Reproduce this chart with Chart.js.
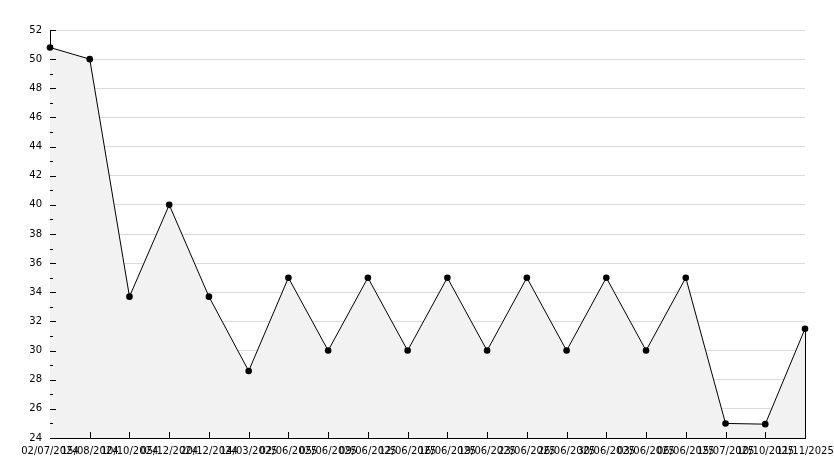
<!DOCTYPE html>
<html>
<head>
<meta charset="utf-8">
<script src="https://cdn.jsdelivr.net/npm/chart.js@4"></script>
<style>
	html, body { margin: 0; padding: 0; background: #fff; }
	#wrap { width: 834px; height: 468px; }
</style>
</head>
<body>
<div id="wrap"><canvas id="lineChart"></canvas></div>
<script>
// даты замеров и значения
const dates = [
	"02/07/2024", "15/08/2024", "10/10/2024", "05/12/2024", "20/12/2024",
	"14/03/2025", "02/06/2025", "05/06/2025", "09/06/2025", "12/06/2025",
	"16/06/2025", "19/06/2025", "23/06/2025", "26/06/2025", "30/06/2025",
	"03/06/2025", "06/06/2025", "15/07/2025", "10/10/2025", "11/11/2025",
];
const values = [
	50.8, 50, 33.7, 40, 33.7, 28.6, 35, 30, 35, 30,
	35, 30, 35, 30, 35, 30, 35, 25, 24.95, 31.5,
];
const yMin = 24;
const yMax = 52;

const ctx = document.getElementById("lineChart");

// засечки внутрь области графика + вертикальная граница заливки
const innerTicks = {
	id: "innerTicks",
	afterDraw(chart) {
		const {
			ctx,
			chartArea: { left, right, top, bottom },
			scales: { x, y },
		} = chart;
		ctx.save();
		ctx.strokeStyle = "#000";
		ctx.lineWidth = 1;
		ctx.beginPath();
		y.ticks.forEach((t) => {
			const py = Math.round(y.getPixelForValue(t.value)) + 0.5;
			const len = t.value % 2 === 0 ? 6 : 3;
			ctx.moveTo(left, py);
			ctx.lineTo(left + len, py);
		});
		x.ticks.forEach((t, i) => {
			if (i === 0) return;
			const px = Math.round(x.getPixelForValue(i)) + 0.5;
			ctx.moveTo(px, bottom);
			ctx.lineTo(px, bottom - 6);
		});
		const last = chart.getDatasetMeta(0).data[values.length - 1];
		ctx.moveTo(Math.round(last.x) + 0.5, last.y);
		ctx.lineTo(Math.round(last.x) + 0.5, bottom);
		ctx.stroke();
		ctx.restore();
	},
};

const config = {
	type: "line",
	data: {
		labels: dates,
		datasets: [
			{
				data: values,
				borderColor: "#000",
				borderWidth: 1,
				backgroundColor: "#f2f2f2",
				fill: "start",
				tension: 0,
				pointRadius: 3.3,
				pointBackgroundColor: "#000",
				pointBorderColor: "#000",
				pointBorderWidth: 0,
			},
		],
	},
	options: {
		responsive: true,
		maintainAspectRatio: false,
		animation: false,
		layout: {
			padding: { top: 30, right: 0, left: 0, bottom: 0 },
		},
		scales: {
			x: {
				offset: false,
				grid: {
					display: false,
					drawTicks: false,
				},
				border: { color: "#000", width: 1 },
				ticks: {
					autoSkip: false,
					maxRotation: 0,
					minRotation: 0,
					padding: 7,
					color: "#000",
					font: { family: "DejaVu Sans", size: 10 },
				},
				afterFit(scale) {
					scale.height = 30;
					scale.paddingLeft = 0;
					scale.paddingRight = 29;
				},
			},
			y: {
				min: yMin,
				max: yMax,
				grid: {
					drawTicks: false,
					color: (c) => (c.tick && c.tick.value % 2 === 0 && c.tick.value !== yMin ? "#dcdcdc" : "rgba(0,0,0,0)"),
				},
				border: { color: "#000", width: 1 },
				ticks: {
					stepSize: 1,
					autoSkip: false,
					padding: 8,
					color: "#000",
					font: { family: "DejaVu Sans", size: 10 },
					callback: (v) => (v % 2 === 0 ? v : ""),
				},
				afterFit(scale) {
					scale.width = 50;
				},
			},
		},
		plugins: {
			legend: false,
			tooltip: { enabled: false },
		},
		hover: { mode: null },
	},
	plugins: [innerTicks],
};

const chart = new Chart(ctx, config);
</script>
</body>
</html>
